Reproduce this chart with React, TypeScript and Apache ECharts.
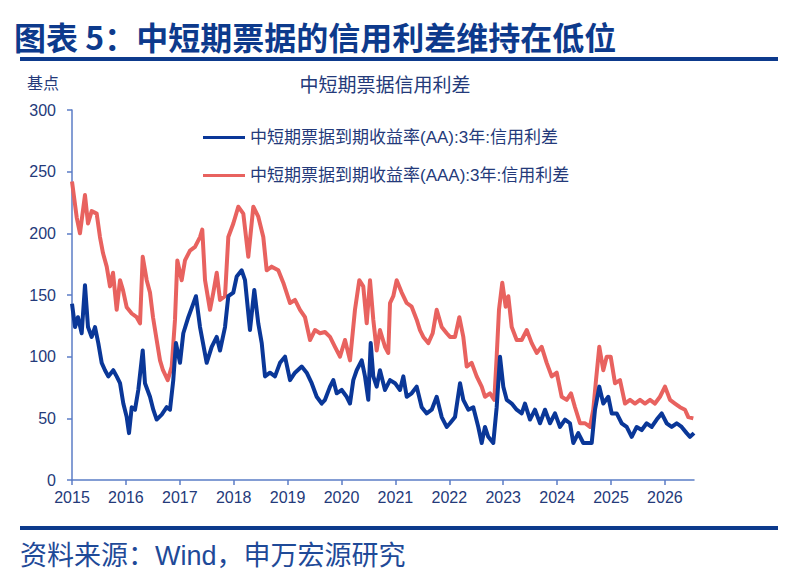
import React, { useEffect, useRef } from "react";
import * as echarts from "echarts";

// x = fractional year, y = 基点
const aaDates = [
  2015.0, 2015.056, 2015.111, 2015.18, 2015.241, 2015.297, 2015.365, 2015.427, 2015.488, 2015.551,
  2015.612, 2015.673, 2015.766, 2015.829, 2015.891, 2015.952, 2016.015, 2016.058, 2016.108, 2016.169,
  2016.23, 2016.312, 2016.354, 2016.447, 2016.508, 2016.571, 2016.664, 2016.757, 2016.818, 2016.879,
  2016.929, 2017.004, 2017.065, 2017.158, 2017.25, 2017.3, 2017.375, 2017.499, 2017.592, 2017.685,
  2017.746, 2017.839, 2017.9, 2017.993, 2018.056, 2018.148, 2018.21, 2018.302, 2018.382, 2018.456,
  2018.52, 2018.581, 2018.673, 2018.766, 2018.859, 2018.952, 2019.045, 2019.137, 2019.262, 2019.354,
  2019.447, 2019.54, 2019.633, 2019.694, 2019.787, 2019.848, 2019.911, 2020.004, 2020.096, 2020.158,
  2020.219, 2020.282, 2020.375, 2020.436, 2020.497, 2020.542, 2020.59, 2020.653, 2020.714, 2020.807,
  2020.9, 2020.993, 2021.085, 2021.147, 2021.21, 2021.302, 2021.395, 2021.488, 2021.581, 2021.674,
  2021.766, 2021.859, 2021.952, 2022.013, 2022.106, 2022.199, 2022.26, 2022.353, 2022.445, 2022.538,
  2022.601, 2022.662, 2022.723, 2022.816, 2022.879, 2022.941, 2023.002, 2023.065, 2023.158, 2023.25,
  2023.343, 2023.404, 2023.497, 2023.59, 2023.683, 2023.776, 2023.868, 2023.961, 2024.054, 2024.147,
  2024.239, 2024.301, 2024.393, 2024.486, 2024.579, 2024.642, 2024.703, 2024.783, 2024.857, 2024.95,
  2025.013, 2025.106, 2025.198, 2025.291, 2025.384, 2025.477, 2025.57, 2025.662, 2025.755, 2025.848,
  2025.94, 2026.033, 2026.126, 2026.219, 2026.311, 2026.404, 2026.466, 2026.54,
];
const aaValues = [
  143, 124, 132, 119, 158, 124, 116, 124, 111, 95,
  89, 84, 89, 84, 78.5, 62, 51, 38, 59, 57,
  73, 105, 78.5, 67.5, 57, 49, 53, 59, 57, 81,
  111, 95, 119, 132, 143, 149, 124, 95, 108, 116,
  105, 124, 149, 152, 165, 170, 162, 121.6, 154, 127,
  111, 84, 87, 84, 95, 100, 81, 87, 92, 87,
  78.5, 67.5, 62, 65, 75.7, 81, 70.3, 73, 67.5, 62,
  81, 89, 97, 84, 65, 111, 84, 75.7, 89, 73,
  81, 78.5, 73, 84, 67.5, 70.3, 75.7, 59, 54, 57,
  67.5, 51, 43, 46, 51, 78.5, 65, 57, 59, 43,
  30, 43, 35, 30, 59, 100, 75.7, 65, 62, 57,
  54, 62, 49, 57, 46, 57, 46, 54, 43, 49,
  46, 30, 38, 30, 30, 30, 57, 75.7, 62, 67.5,
  54, 54, 46, 43, 35, 43, 40.5, 46, 43, 49,
  54, 46, 43, 46, 43, 38, 35, 38,
];

const aaaDates = [
  2015.0, 2015.087, 2015.148, 2015.241, 2015.297, 2015.365, 2015.458, 2015.519, 2015.575, 2015.644,
  2015.705, 2015.761, 2015.829, 2015.891, 2015.946, 2016.015, 2016.108, 2016.2, 2016.262, 2016.312,
  2016.386, 2016.447, 2016.503, 2016.571, 2016.633, 2016.688, 2016.776, 2016.85, 2016.911, 2016.954,
  2017.035, 2017.096, 2017.189, 2017.282, 2017.375, 2017.417, 2017.468, 2017.56, 2017.622, 2017.685,
  2017.746, 2017.839, 2017.9, 2017.993, 2018.085, 2018.178, 2018.271, 2018.364, 2018.456, 2018.549,
  2018.612, 2018.705, 2018.827, 2018.92, 2019.045, 2019.137, 2019.23, 2019.323, 2019.416, 2019.508,
  2019.601, 2019.694, 2019.787, 2019.879, 2019.972, 2020.065, 2020.158, 2020.25, 2020.33, 2020.404,
  2020.468, 2020.529, 2020.59, 2020.653, 2020.714, 2020.807, 2020.868, 2020.9, 2020.961, 2021.024,
  2021.117, 2021.21, 2021.302, 2021.395, 2021.456, 2021.518, 2021.61, 2021.692, 2021.766, 2021.859,
  2021.952, 2022.013, 2022.106, 2022.186, 2022.26, 2022.323, 2022.415, 2022.508, 2022.601, 2022.662,
  2022.755, 2022.835, 2022.879, 2022.922, 2022.983, 2023.046, 2023.095, 2023.158, 2023.25, 2023.343,
  2023.436, 2023.529, 2023.622, 2023.714, 2023.807, 2023.9, 2023.993, 2024.085, 2024.178, 2024.258,
  2024.332, 2024.425, 2024.518, 2024.61, 2024.671, 2024.722, 2024.783, 2024.857, 2024.92, 2024.994,
  2025.074, 2025.167, 2025.26, 2025.353, 2025.445, 2025.538, 2025.631, 2025.724, 2025.816, 2025.909,
  2026.002, 2026.095, 2026.187, 2026.28, 2026.373, 2026.434, 2026.527,
];
const aaaValues = [
  242, 213, 200, 231, 208, 218, 216, 197, 184, 173,
  157, 168, 138, 162, 154, 140, 135, 132, 127, 181,
  162, 152, 132, 113.5, 97, 89, 81, 92, 130, 178,
  162, 178, 186, 189, 197, 203, 162, 138, 152, 168,
  146, 149, 197, 208, 221.6, 216, 181, 221.6, 213.5, 197,
  170, 173, 170, 160, 143.5, 146, 138, 132, 113.5, 121.6,
  119, 120, 116, 108, 100, 113.5, 97, 138, 162, 157,
  127, 162, 130, 105, 121.6, 108, 103, 143.5, 149, 162,
  152, 143.5, 140.5, 130, 121.6, 116, 111, 119, 138, 124,
  119, 116, 116, 132, 116, 92, 95, 84, 75.7, 67.5,
  70.3, 65, 100, 138, 160, 140.5, 149, 124, 113.5, 113.5,
  121.6, 111, 103, 108, 95, 84, 87, 67.5, 65, 70.3,
  59, 46, 46, 43, 57, 81, 108, 89, 100, 100,
  78.5, 81, 62, 65, 62, 65, 62, 65, 62, 67.5,
  75.7, 65, 62, 59, 57, 51, 50,
];

const yearTicks = [2015, 2016, 2017, 2018, 2019, 2020, 2021, 2022, 2023, 2024, 2025, 2026];
const seriesNames = ["中短期票据到期收益率(AA):3年:信用利差", "中短期票据到期收益率(AAA):3年:信用利差"];
const mainTitle = "图表 5：中短期票据的信用利差维持在低位";
const chartTitle = "中短期票据信用利差";
const unitLabel = "基点";
const sourceText = "资料来源：Wind，申万宏源研究";

const CJK = '"Liberation Sans", Arial, "Noto Sans CJK SC", sans-serif';
const NAVY = "#0d3a8c";
const LABEL = "#243a7a";
const AXIS = "#5b7dc6";

export default function App() {
  const ref = useRef<HTMLDivElement>(null);
  useEffect(() => {
    if (!ref.current) return;
    const chart = echarts.init(ref.current, null, { renderer: "svg" });
    const pair = (xs: number[], ys: number[]) => xs.map((x, i) => [x, ys[i]]);
    chart.setOption({
      animation: false,
      backgroundColor: "#ffffff",
      textStyle: { fontFamily: CJK },
      grid: { left: 72, right: 92, top: 110, bottom: 102, containLabel: false },
      legend: {
        orient: "vertical",
        left: 198,
        top: 124,
        itemWidth: 42,
        itemHeight: 17,
        itemGap: 21,
        icon: "path://M0,7 L42,7 L42,10 L0,10 Z",
        textStyle: { color: LABEL, fontSize: 17, fontFamily: CJK },
        data: [seriesNames[0], seriesNames[1]],
      },
      xAxis: {
        type: "value",
        min: 2015,
        max: 2026.54,
        splitLine: { show: false },
        axisLine: { show: true, lineStyle: { color: AXIS, width: 1.5 } },
        axisTick: { show: true, length: 5, customValues: yearTicks, lineStyle: { color: AXIS, width: 1.5 } },
        axisLabel: {
          customValues: yearTicks,
          color: LABEL,
          fontSize: 16,
          margin: 9,
          formatter: (v: number) => String(Math.round(v)),
        },
      },
      yAxis: {
        type: "value",
        min: 0,
        max: 300,
        interval: 50,
        splitLine: { show: false },
        axisLine: { show: true, lineStyle: { color: AXIS, width: 1.5 } },
        axisTick: { show: true, length: 5, lineStyle: { color: AXIS, width: 1.5 } },
        axisLabel: { color: LABEL, fontSize: 16, margin: 16 },
      },
      series: [
        {
          name: seriesNames[1],
          type: "line",
          data: pair(aaaDates, aaaValues),
          showSymbol: false,
          symbol: "none",
          color: "#e8625f",
          lineStyle: { color: "#e8625f", width: 4, join: "round" },
          z: 2,
        },
        {
          name: seriesNames[0],
          type: "line",
          data: pair(aaDates, aaValues),
          showSymbol: false,
          symbol: "none",
          color: "#0a3798",
          lineStyle: { color: "#0a3798", width: 4, join: "round" },
          z: 3,
        },
      ],
      graphic: [
        {
          type: "text",
          left: 14,
          top: 20,
          style: {
            text: mainTitle,
            fill: NAVY,
            font: `bold 32px "Noto Sans CJK SC", "Liberation Sans", sans-serif`,
          },
        },
        {
          type: "rect",
          shape: { x: 20, y: 57, width: 758, height: 4 },
          style: { fill: "#0d3a8c" },
        },
        {
          type: "text",
          left: 27,
          top: 75,
          style: { text: unitLabel, fill: LABEL, font: `16px ${CJK}` },
        },
        {
          type: "text",
          x: 385,
          y: 85,
          style: {
            text: chartTitle,
            fill: LABEL,
            font: `19px ${CJK}`,
            align: "center",
            verticalAlign: "middle",
          },
        },
        {
          type: "rect",
          shape: { x: 20, y: 526, width: 758, height: 4 },
          style: { fill: "#0d3a8c" },
        },
        {
          type: "text",
          left: 20,
          top: 542,
          style: { text: sourceText, fill: "#1f4a98", font: `27px ${CJK}` },
        },
      ],
    });
    return () => chart.dispose();
  }, []);
  return (
    <div
      ref={ref}
      style={{ position: "fixed", left: 0, top: 0, width: 786, height: 582, background: "#fff" }}
    />
  );
}
